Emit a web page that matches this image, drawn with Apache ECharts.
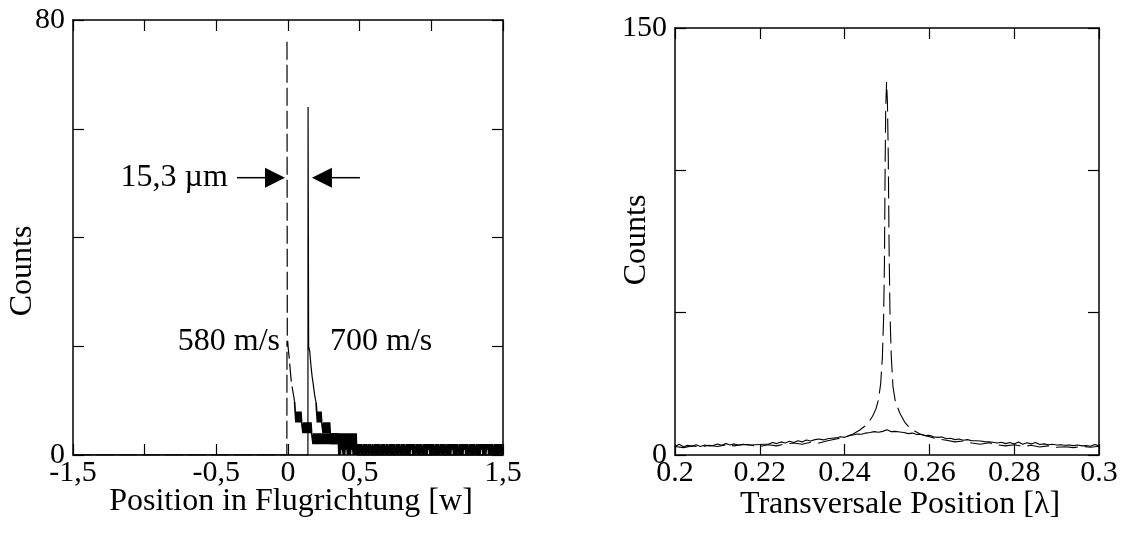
<!DOCTYPE html>
<html>
<head>
<meta charset="utf-8">
<script src="https://cdn.jsdelivr.net/npm/echarts@6/dist/echarts.min.js"></script>
<style>
  html, body { margin: 0; padding: 0; background: #fff; }
  #chart { width: 1131px; height: 535px; }
</style>
</head>
<body>
<div id="chart"></div>
<script>
const FONT = "'Liberation Serif','Times New Roman',serif";

// ---------- Left panel: position along the flight direction ----------
const flugTickLabels = ['-1,5', '', '-0,5', '0', '0,5', '', '1,5'];
const flugCountLabels = ['0', '', '', '', '80'];
const binWidth = 0.005;

// 580 m/s (dashed): leading edge and sharp peak ('-' lifts the pen where the
// falling flank would retrace the rising one)
const v580Edge = [[-1.5, 0], [-0.008, 0], [-0.007, 21], [-0.007, '-'], [-0.007, 76], [-0.005, 22],
  [0.002, 19.5], [0.008, 18], [0.016, 15.5], [0.024, 13.2], [0.032, 12], [0.04, 10.8], [0.046, 9.8]];
// 580 m/s tail, counts per bin starting at 0.05
const v580BinStart = 0.05;
const v580Counts = [
  8, 6, 8, 6, 8, 6, 8, 6, 8, 6,
  6, 4, 6, 4, 6, 4, 6, 4, 6, 4, 6, 4, 6, 4,
  4, 2, 4, 2, 4, 2, 4, 2, 4, 2, 4, 2, 4, 2, 4, 2, 4, 2, 4, 2,
  4, 2, 4, 2, 4, 2, 4, 2, 4, 2, 4, 2, 4, 2, 4, 2, 4,
  0, 2, 0, 2, 1, 2, 0, 2, 0, 2, 1, 2, 0, 2, 0, 2, 0, 2, 1, 2, 0, 2, 0, 2, 0, 2
];
const v580End = [[0.485, 0], [1.5, 0]];

// 700 m/s (solid): leading edge and peak
const v700Edge = [[-1.5, 0], [0.139, 0], [0.14, 64], [0.144, 20], [0.152, 19], [0.16, 16.5],
  [0.168, 14.5], [0.176, 13], [0.186, 11], [0.196, 9.6]];
// 700 m/s tail, counts per bin starting at 0.2
const v700BinStart = 0.2;
const v700Counts = [
  8, 6, 8, 6, 8, 6, 8, 6,
  6, 4, 6, 4, 6, 4, 6, 4, 6, 4, 6,
  4, 2, 4, 2, 4, 2, 4, 2, 4, 2, 4, 2, 4, 2, 4, 2, 4, 2, 4, 2,
  4, 2, 4, 2, 4, 2, 4, 2, 4, 2, 4, 2, 4, 2, 4, 2, 4,
  0, 2, 0, 2, 1, 2, 0, 2, 0, 1, 2, 0, 2, 0, 2, 1, 0, 2, 0, 2,
  2, 0, 2, 0, 1, 2, 0, 2, 0, 2, 0, 2, 1, 0, 2, 0, 2, 0, 2, 1,
  0, 2, 0, 2, 0, 1, 2, 0, 2, 0, 2, 0, 2, 0, 1, 2, 0, 2, 0, 2,
  1, 0, 2, 0, 2, 0, 2, 1, 0, 2, 0, 2, 0, 2, 0, 2, 1, 2, 0, 2,
  0, 2, 0, 1, 2, 0, 2, 0, 2, 0, 2, 1, 0, 2, 0, 2, 0, 2, 0, 2,
  1, 2, 0, 2, 0, 2, 0, 2, 1, 0, 2, 0, 2, 0, 2, 0, 1, 2, 0, 2,
  0, 2, 0, 2, 1, 0, 2, 0, 2, 0, 2, 0, 2, 1, 2, 0, 2, 0, 2, 0,
  2, 1, 0, 2, 0, 2, 0, 2, 0, 2, 1, 2, 0, 2, 0, 2, 0, 1, 2, 0,
  2, 0, 2, 0, 2, 1, 0, 2, 0, 2, 0, 2, 0, 2, 1, 2, 0, 2, 0, 2,
  0, 2, 1, 2, 0, 2, 0, 2, 0, 2, 1, 0, 2, 0, 2, 0, 2, 0, 2, 0,
  2, 0, 2, 1, 0
];

// Annotations (data units of the left panel)
const gapArrows = [
  { tail: [-0.356, 51], tip: [-0.021, 51] },
  { tail: [0.502, 51], tip: [0.167, 51] }
];
const flugNotes = [
  { text: '15,3 \u00b5m', at: [-0.419, 51], align: 'right' },
  { text: '580 m/s', at: [-0.056, 20.8], align: 'right' },
  { text: '700 m/s', at: [0.293, 20.8], align: 'left' }
];

// ---------- Right panel: transverse position ----------
const transTickLabels = ['0.2', '0.22', '0.24', '0.26', '0.28', '0.3'];
const transCountLabels = ['0', '', '', '150'];
const transStart = 0.2;
const transStep = 0.001;
const transSolid = [
  3.0, 3.8, 2.9, 3.4, 3.1, 3.6, 3.0, 3.5, 3.2, 3.3,
  3.9, 3.4, 4.0, 3.5, 3.9, 3.4, 3.6, 3.7, 3.5, 3.6,
  3.7, 3.8, 3.8, 4.4, 4.0, 4.6, 4.2, 4.8, 4.4, 5.0,
  4.6, 5.3, 4.9, 5.4, 5.6, 5.3, 5.7, 5.9, 6.0, 6.4,
  6.2, 6.8, 7.0, 7.4, 7.3, 7.7, 7.9, 8.2, 8.0, 8.3,
  8.9, 8.2, 8.3, 8.1, 7.9, 7.5, 7.7, 7.2, 7.3, 6.8,
  6.9, 6.4, 6.2, 6.3, 5.7, 5.9, 5.4, 5.6, 5.2, 5.4,
  5.0, 5.0, 4.9, 4.7, 4.6, 4.5, 4.2, 4.5, 4.0, 4.4,
  3.9, 4.6, 3.8, 4.3, 3.9, 4.4, 3.7, 3.9, 3.6, 3.8,
  3.5, 3.6, 3.4, 3.5, 3.3, 3.5, 3.2, 3.3, 3.1, 3.7,
  3.2
];
const transDashed = [
  [0.200, 3.0], [0.202, 2.6], [0.204, 3.2], [0.206, 2.8], [0.208, 3.4], [0.210, 3.0],
  [0.212, 3.6], [0.214, 3.2], [0.216, 3.8], [0.218, 3.4], [0.220, 3.0], [0.222, 3.6],
  [0.224, 3.2], [0.226, 3.9], [0.228, 4.2], [0.230, 3.8], [0.232, 4.5], [0.234, 4.2],
  [0.236, 5.0], [0.238, 5.6], [0.240, 6.2], [0.242, 7.4], [0.2436, 8.8], [0.2448, 10.2],
  [0.2458, 11.8], [0.2466, 13.6], [0.2474, 16.2], [0.2480, 19.5], [0.2485, 25], [0.2489, 34],
  [0.2492, 48], [0.2494, 68], [0.24955, 100], [0.2497, 122], [0.2499, 131], [0.2501, 124],
  [0.2503, 105], [0.2505, 72], [0.2507, 50], [0.2510, 35], [0.2514, 24], [0.2520, 18.5],
  [0.2531, 14.5], [0.2542, 11.5], [0.2552, 9.8], [0.2565, 8.4], [0.258, 7.2], [0.260, 6.4],
  [0.262, 5.6], [0.264, 5.2], [0.266, 4.6], [0.268, 4.9], [0.270, 4.2], [0.272, 3.8],
  [0.274, 4.3], [0.276, 3.6], [0.278, 3.2], [0.280, 3.6], [0.282, 3.0], [0.284, 3.4],
  [0.286, 2.8], [0.288, 3.2], [0.290, 2.7], [0.292, 2.9], [0.294, 2.6], [0.296, 3.0],
  [0.298, 2.7], [0.300, 3.1]
];

// ---------- helpers ----------
function binned(start, step, counts) {
  return counts.map((c, i) => [+(start + i * step).toFixed(5), c]);
}

function labelFor(labels, min, interval) {
  return function (value) {
    const k = Math.round((value - min) / interval);
    return labels[k] !== undefined ? labels[k] : '';
  };
}

const lineBase = { show: true, onZero: false, lineStyle: { color: '#000', width: 1.5 } };
const tickBase = { show: true, inside: true, length: 11, lineStyle: { color: '#000', width: 1.2 } };
const labelText = { color: '#000', fontFamily: FONT, fontSize: 30 };

function xAxisPair(grid, min, max, interval, labels) {
  return [
    {
      type: 'value', gridIndex: grid, position: 'bottom', min, max, interval,
      axisLine: lineBase, axisTick: tickBase, splitLine: { show: false },
      axisLabel: Object.assign({ show: true, margin: 3, showMinLabel: true, showMaxLabel: true,
        formatter: labelFor(labels, min, interval) }, labelText)
    },
    {
      type: 'value', gridIndex: grid, position: 'top', min, max, interval,
      axisLine: lineBase, axisTick: tickBase, splitLine: { show: false },
      axisLabel: { show: false }
    }
  ];
}

function yAxisPair(grid, min, max, interval, labels) {
  return [
    {
      type: 'value', gridIndex: grid, position: 'left', min, max, interval,
      axisLine: lineBase, axisTick: tickBase, splitLine: { show: false },
      axisLabel: Object.assign({ show: true, margin: 8, showMinLabel: true, showMaxLabel: true,
        formatter: labelFor(labels, min, interval) }, labelText)
    },
    {
      type: 'value', gridIndex: grid, position: 'right', min, max, interval,
      axisLine: lineBase, axisTick: tickBase, splitLine: { show: false },
      axisLabel: { show: false }
    }
  ];
}

function lineSeries(name, xi, yi, data, dash, width) {
  return {
    name, type: 'line', xAxisIndex: xi, yAxisIndex: yi, data,
    showSymbol: false, symbol: 'none', silent: true, animation: false,
    connectNulls: false,
    lineStyle: { color: '#000', width: width, type: dash || 'solid' },
    z: 3
  };
}

const chart = echarts.init(document.getElementById('chart'), null, { renderer: 'canvas' });

// Peak flanks keep the line style; the densely binned tails are stroked a little heavier
const v580TailData = [v580Edge[v580Edge.length - 1]].concat(binned(v580BinStart, binWidth, v580Counts), v580End);
const v700TailData = [v700Edge[v700Edge.length - 1]].concat(binned(v700BinStart, binWidth, v700Counts));
const transSolidData = binned(transStart, transStep, transSolid);

chart.setOption({
  backgroundColor: '#fff',
  animation: false,
  grid: [
    { left: 73, top: 20, width: 430, height: 435, containLabel: false },
    { left: 675, top: 28, width: 424, height: 427, containLabel: false }
  ],
  xAxis: xAxisPair(0, -1.5, 1.5, 0.5, flugTickLabels)
    .concat(xAxisPair(1, 0.2, 0.3, 0.02, transTickLabels)),
  yAxis: yAxisPair(0, 0, 80, 20, flugCountLabels)
    .concat(yAxisPair(1, 0, 150, 50, transCountLabels)),
  series: [
    lineSeries('580 m/s', 0, 0, v580Edge, [18, 5], 1.2),
    lineSeries('580 m/s', 0, 0, v580TailData, 'solid', 1.7),
    lineSeries('700 m/s', 0, 0, v700Edge, 'solid', 1.2),
    lineSeries('700 m/s', 0, 0, v700TailData, 'solid', 1.7),
    lineSeries('dashed', 2, 2, transDashed, [22, 7], 1.1),
    lineSeries('solid', 2, 2, transSolidData, 'solid', 1.1)
  ]
});

// Axis titles and annotations, placed through the chart's own coordinate systems
function px(point, grid) {
  return chart.convertToPixel({ xAxisIndex: grid * 2, yAxisIndex: grid * 2 }, point);
}

const titleStyle = { fill: '#000', fontFamily: FONT, fontSize: 32, align: 'center', verticalAlign: 'middle' };
const graphics = [];

const lg = chart.getModel().getComponent('grid', 0).coordinateSystem.getRect();
const rg = chart.getModel().getComponent('grid', 1).coordinateSystem.getRect();

graphics.push({ type: 'text', x: lg.x + lg.width / 2 + 3, y: 502,
  style: Object.assign({ text: 'Position in Flugrichtung [w]' }, titleStyle) });
graphics.push({ type: 'text', x: 23, y: 271, rotation: Math.PI / 2,
  style: Object.assign({ text: 'Counts' }, titleStyle) });
graphics.push({ type: 'text', x: rg.x + rg.width / 2 + 13, y: 505,
  style: Object.assign({ text: 'Transversale Position [\u03bb]' }, titleStyle) });
graphics.push({ type: 'text', x: 637, y: 240, rotation: Math.PI / 2,
  style: Object.assign({ text: 'Counts' }, titleStyle) });

const headLen = 20, headHalf = 10;
gapArrows.forEach(a => {
  const t = px(a.tail, 0), p = px(a.tip, 0);
  const dir = Math.sign(p[0] - t[0]);
  const baseX = p[0] - dir * headLen;
  graphics.push({ type: 'line', shape: { x1: t[0], y1: t[1], x2: baseX, y2: p[1] },
    style: { stroke: '#000', lineWidth: 1.5 } });
  graphics.push({ type: 'polygon', shape: { points: [[p[0], p[1]], [baseX, p[1] - headHalf], [baseX, p[1] + headHalf]] },
    style: { fill: '#000' } });
});

flugNotes.forEach(n => {
  const p = px(n.at, 0);
  graphics.push({ type: 'text', x: p[0], y: p[1],
    style: { text: n.text, fill: '#000', fontFamily: FONT, fontSize: 32, align: n.align, verticalAlign: 'middle' } });
});

chart.setOption({ graphic: graphics });
</script>
</body>
</html>
